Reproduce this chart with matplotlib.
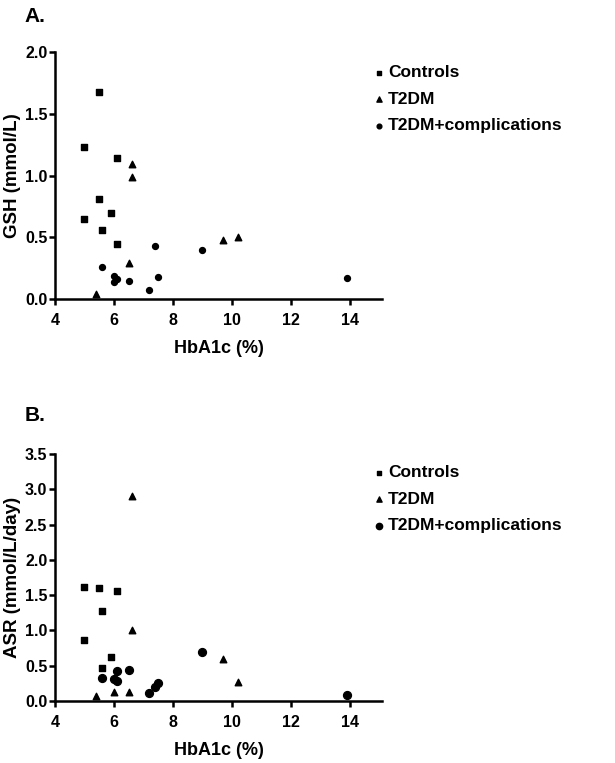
import matplotlib.pyplot as plt

plt.rcParams['font.family'] = ['Liberation Sans', 'DejaVu Sans']
plt.rcParams['font.weight'] = 'bold'

# Panel A: GSH vs HbA1c
ctrl_a_x = [5.5, 5.0, 6.1, 5.5, 5.9, 5.0, 5.6, 6.1]
ctrl_a_y = [1.68, 1.23, 1.14, 0.81, 0.70, 0.65, 0.56, 0.45]
t2dm_a_x = [6.6, 6.6, 6.5, 5.4, 9.7, 10.2]
t2dm_a_y = [1.09, 0.99, 0.29, 0.04, 0.48, 0.50]
comp_a_x = [5.6, 6.0, 6.1, 6.0, 6.5, 7.4, 7.5, 7.2, 9.0, 13.9]
comp_a_y = [0.26, 0.19, 0.16, 0.14, 0.15, 0.43, 0.18, 0.07, 0.40, 0.17]

# Panel B: ASR vs HbA1c
ctrl_b_x = [5.0, 5.5, 6.1, 5.6, 5.0, 5.9, 5.6]
ctrl_b_y = [1.62, 1.60, 1.56, 1.28, 0.87, 0.63, 0.47]
t2dm_b_x = [6.6, 6.6, 9.7, 10.2, 5.4, 6.0, 6.5]
t2dm_b_y = [2.91, 1.00, 0.60, 0.27, 0.07, 0.13, 0.13]
comp_b_x = [5.6, 6.1, 6.0, 6.1, 6.5, 7.2, 7.4, 7.5, 9.0, 13.9]
comp_b_y = [0.32, 0.43, 0.31, 0.28, 0.44, 0.12, 0.20, 0.25, 0.70, 0.08]

labels = ["Controls", "T2DM", "T2DM+complications"]

fig = plt.figure(figsize=(6.15, 7.63), dpi=100)


def style(ax, ymax, ystep, ylabel):
    ax.set_xlim(4, 15.1)
    ax.set_ylim(0, ymax)
    ax.set_xticks([4, 6, 8, 10, 12, 14])
    ticks = [i * ystep for i in range(int(round(ymax / ystep)) + 1)]
    ax.set_yticks(ticks)
    ax.set_yticklabels(["%.1f" % t for t in ticks])
    for s in ["top", "right"]:
        ax.spines[s].set_visible(False)
    for s in ["left", "bottom"]:
        ax.spines[s].set_linewidth(1.8)
    ax.tick_params(width=1.8, length=4, labelsize=11.5, pad=1.5)
    ax.tick_params(axis="x", pad=6)
    ax.set_xlabel("HbA1c (%)", fontsize=13, fontweight="bold", labelpad=9)
    ax.set_ylabel(ylabel, fontsize=13.5, fontweight="bold", labelpad=3)
    for t in ax.get_xticklabels() + ax.get_yticklabels():
        t.set_fontweight("bold")


axA = fig.add_axes([0.0894, 0.608, 0.532, 0.3237])
axA.scatter(ctrl_a_x, ctrl_a_y, marker="s", s=18, c="black", label=labels[0], clip_on=False)
axA.scatter(t2dm_a_x, t2dm_a_y, marker="^", s=22, c="black", label=labels[1], clip_on=False)
axA.scatter(comp_a_x, comp_a_y, marker="o", s=18, c="black", label=labels[2], clip_on=False)
style(axA, 2.0, 0.5, "GSH (mmol/L)")
axA.legend(loc="upper left", bbox_to_anchor=(0.577, 0.935), bbox_transform=fig.transFigure,
           frameon=False, handletextpad=0.0, labelspacing=0.65,
           markerscale=0.8, handlelength=1.0, prop={"weight": "bold", "size": 12.5})

axB = fig.add_axes([0.0894, 0.0813, 0.532, 0.3237])
axB.scatter(ctrl_b_x, ctrl_b_y, marker="s", s=18, c="black", label=labels[0], clip_on=False)
axB.scatter(t2dm_b_x, t2dm_b_y, marker="^", s=22, c="black", label=labels[1], clip_on=False)
axB.scatter(comp_b_x, comp_b_y, marker="o", s=32, c="black", label=labels[2], clip_on=False)
style(axB, 3.5, 0.5, "ASR (mmol/L/day)")
axB.legend(loc="upper left", bbox_to_anchor=(0.577, 0.411), bbox_transform=fig.transFigure,
           frameon=False, handletextpad=0.0, labelspacing=0.65,
           markerscale=0.8, handlelength=1.0, prop={"weight": "bold", "size": 12.5})

fig.text(0.04, 0.978, "A.", fontsize=15, fontweight="bold", va="center")
fig.text(0.04, 0.456, "B.", fontsize=15, fontweight="bold", va="center")

fig.savefig("out.png", dpi=100)
